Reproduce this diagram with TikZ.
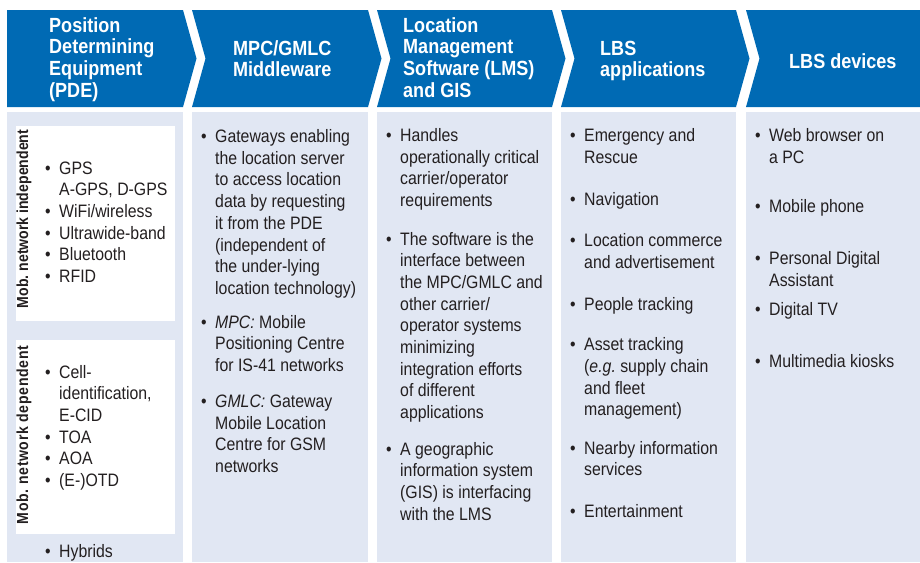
\documentclass[tikz,border=0pt]{standalone}
\usepackage{fontspec}
\setmainfont{Liberation Sans}[FakeStretch=0.88]

\definecolor{hdrblue}{RGB}{0,106,180}
\definecolor{colbg}{RGB}{225,231,243}
\definecolor{bodyink}{RGB}{35,31,32}

\newcommand\bodyfont{\fontsize{18}{21.7}\selectfont\frenchspacing}
\newcommand\hdrfont{\fontsize{20.5}{21.7}\selectfont\bfseries}
\newcommand\sidefont{\fontsize{16}{18}\selectfont\bfseries\frenchspacing}
% bullet hung in the left margin of an item
\newcommand\bul{\leavevmode\llap{\textbullet\hspace{8.5pt}}}
% stacked lines whose baseline is that of the first line
\newcommand\lines[1]{\begin{tabular}[t]{@{}l@{}}#1\end{tabular}}

\begin{document}
\begin{tikzpicture}[x=1pt,y=-1pt,
    hdr/.style={anchor=base west, text=white, font=\hdrfont, inner sep=0pt},
    item/.style={anchor=base west, text=bodyink, font=\bodyfont, inner sep=0pt},
    side/.style={rotate=90, anchor=center, text=bodyink, font=\sidefont, inner sep=0pt}]
\useasboundingbox (0,0) rectangle (920,562);

% light column panels
\foreach \l/\r in {7/183,192/368,377/552,561/736,746/920}
  \fill[colbg] (\l,112) rectangle (\r,562);

% chevron header band
\fill[hdrblue] (7,10) -- (183,10) -- (196.5,58.5) -- (183,107) -- (7,107) -- cycle;
\foreach \l/\r in {192/368,377/552,561/736}
  \fill[hdrblue] (\l,10) -- (\r,10) -- (\r+13.5,58.5) -- (\r,107) -- (\l,107) -- (\l+13.5,58.5) -- cycle;
\fill[hdrblue] (746,10) -- (920,10) -- (920,107) -- (746,107) -- (759.5,58.5) -- cycle;

% header titles
\node[hdr] (h1) at (49,32) {\lines{Position\\Determining\\Equipment\\(PDE)}};
\node[hdr] (h2) at (233,55) {\lines{MPC/GMLC\\Middleware}};
\node[hdr] (h3) at (403,32) {\lines{Location\\Management\\Software (LMS)\\and GIS}};
\node[hdr] (h4) at (600,55) {\lines{LBS\\applications}};
\node[hdr] (h5) at (789,68) {LBS devices};

% PDE column: two white sub-panels
\fill[white] (16,126) rectangle (175,321);
\fill[white] (16,340) rectangle (175,534);
\node[side] (s1) at (24,219) {Mob. network independent};
\node[side] (s2) at (24,435) {\addfontfeature{LetterSpace=4}Mob. network dependent};
\node[item] (p1) at (59,174) {\lines{\bul GPS\\A-GPS, D-GPS\\\bul WiFi/wireless\\\bul Ultrawide-band\\\bul Bluetooth\\\bul RFID}};
\node[item] (p2) at (59,378) {\lines{\bul Cell-\\identification,\\E-CID\\\bul TOA\\\bul AOA\\\bul (E-)OTD}};
\node[item] (p3) at (59,557) {\bul Hybrids};

% middleware column
\node[item] (m1) at (215,142.5) {\lines{\bul Gateways enabling\\the location server\\to access location\\data by requesting\\it from the PDE\\(independent of\\the under-lying\\location technology)}};
\node[item] (m2) at (215,328) {\lines{\bul \textit{MPC:} Mobile\\Positioning Centre\\for IS-41 networks}};
\node[item] (m3) at (215,407.5) {\lines{\bul \textit{GMLC:} Gateway\\Mobile Location\\Centre for GSM\\networks}};

% LMS and GIS column
\node[item] (l1) at (400,141.5) {\lines{\bul Handles\\operationally critical\\carrier/operator\\requirements}};
\node[item] (l2) at (400,245) {\lines{\bul The software is the\\interface between\\the MPC/GMLC and\\other carrier/\\operator systems\\minimizing\\integration efforts\\of different\\applications}};
\node[item] (l3) at (400,455) {\lines{\bul A geographic\\information system\\(GIS) is interfacing\\with the LMS}};

% applications column
\node[item] (a1) at (584,141.7) {\lines{\bul Emergency and\\Rescue}};
\node[item] (a2) at (584,205) {\bul Navigation};
\node[item] (a3) at (584,246.7) {\lines{\bul Location commerce\\and advertisement}};
\node[item] (a4) at (584,310) {\bul People tracking};
\node[item] (a5) at (584,350.7) {\lines{\bul Asset tracking\\(\textit{e.g.}\ supply chain\\and fleet\\management)}};
\node[item] (a6) at (584,454) {\lines{\bul Nearby information\\services}};
\node[item] (a7) at (584,517) {\bul Entertainment};

% devices column
\node[item] (d1) at (769,141.7) {\lines{\bul Web browser on\\a PC}};
\node[item] (d2) at (769,212.3) {\bul Mobile phone};
\node[item] (d3) at (769,264.3) {\lines{\bul Personal Digital\\Assistant}};
\node[item] (d4) at (769,315) {\bul Digital TV};
\node[item] (d5) at (769,367.3) {\bul Multimedia kiosks};
\end{tikzpicture}
\end{document}
